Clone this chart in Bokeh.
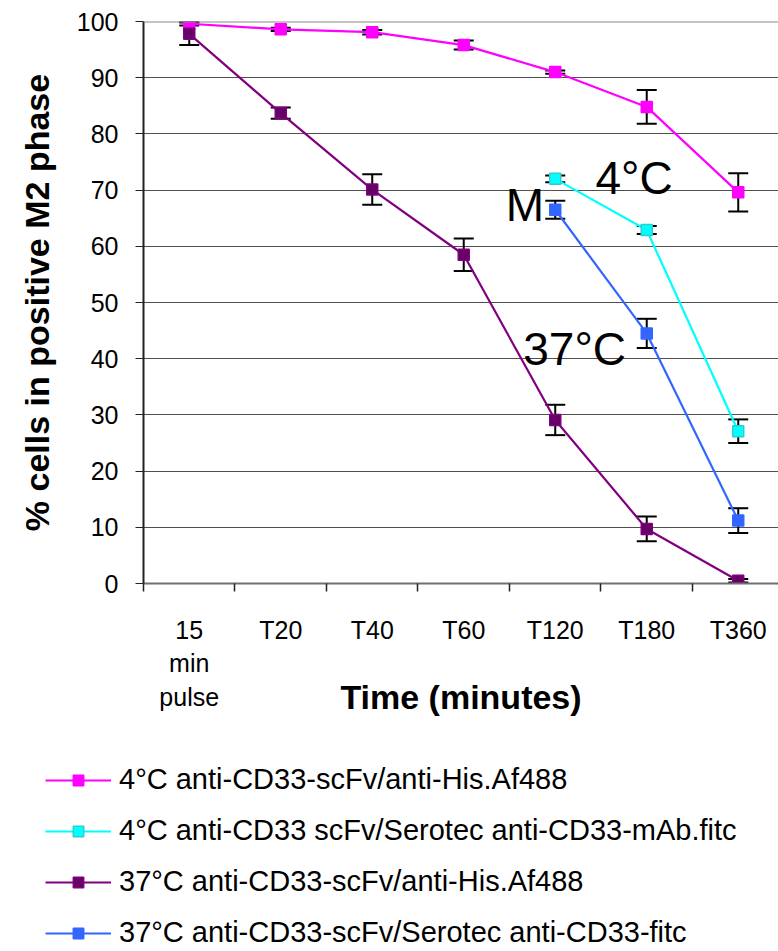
from bokeh.plotting import figure
from bokeh.layouts import column
from bokeh.models import (FixedTicker, Whisker, ColumnDataSource, Legend, LegendItem,
                          Label, Span, TeeHead)
from bokeh.embed import file_html
from bokeh.resources import INLINE

# ---- data ----
categories = ["15\nmin\npulse", "T20", "T40", "T60", "T120", "T180", "T360"]
y_ticks = [0, 10, 20, 30, 40, 50, 60, 70, 80, 90, 100]

his4_cats = ["15\nmin\npulse", "T20", "T40", "T60", "T120", "T180", "T360"]
his4_vals = [99.6, 98.6, 98.1, 95.8, 91.0, 84.8, 69.6]
his4_err = [0.3, 0.3, 0.4, 0.8, 0.3, 3.0, 3.4]

sero4_cats = ["T120", "T180", "T360"]
sero4_vals = [72.0, 62.9, 27.1]
sero4_err = [0.6, 0.7, 2.1]

his37_cats = ["15\nmin\npulse", "T20", "T40", "T60", "T120", "T180", "T360"]
his37_vals = [97.8, 83.7, 70.1, 58.5, 29.1, 9.7, 0.5]
his37_err = [2.0, 1.0, 2.7, 2.9, 2.7, 2.2, 0.3]

sero37_cats = ["T120", "T180", "T360"]
sero37_vals = [66.5, 44.5, 11.2]
sero37_err = [1.6, 2.6, 2.2]

series_names = [
    "4°C anti-CD33-scFv/anti-His.Af488",
    "4°C anti-CD33 scFv/Serotec anti-CD33-mAb.fitc",
    "37°C anti-CD33-scFv/anti-His.Af488",
    "37°C anti-CD33-scFv/Serotec anti-CD33-fitc",
]
annot_texts = ["4°C", "M", "37°C"]

FONT = "Liberation Sans"

p = figure(width=778, height=745, output_backend="svg", toolbar_location=None,
           x_range=(0, 6.94), y_range=(0, 100),
           min_border_left=143, min_border_right=0, min_border_top=21,
           min_border_bottom=162)
p.outline_line_color = None
p.background_fill_color = "white"

# y axis
p.yaxis.ticker = FixedTicker(ticks=y_ticks)
p.yaxis.major_tick_out = 8
p.yaxis.major_tick_in = 0
p.yaxis.minor_tick_out = 0
p.yaxis.minor_tick_in = 0
p.yaxis.axis_line_width = 2
p.yaxis.axis_line_color = "#222222"
p.yaxis.major_tick_line_color = "#222222"
p.yaxis.major_label_text_font = FONT
p.yaxis.major_label_text_font_size = "25px"
p.yaxis.major_label_text_color = "black"
p.yaxis.major_label_standoff = 17
p.yaxis.axis_label = "% cells in positive M2 phase"
p.yaxis.axis_label_text_font = FONT
p.yaxis.axis_label_text_font_style = "bold"
p.yaxis.axis_label_text_font_size = "34px"
p.yaxis.axis_label_text_color = "black"
p.yaxis.axis_label_standoff = 18

# x axis: labels at category centres, tick marks at category boundaries
centers = [i + 0.5 for i in range(len(categories))]
bounds = [i for i in range(len(categories) + 1)]
p.xaxis.ticker = FixedTicker(ticks=centers, minor_ticks=bounds)
p.xaxis.major_label_overrides = {c: lab for c, lab in zip(centers, categories)}
p.xaxis.major_tick_out = 0
p.xaxis.major_tick_in = 0
p.xaxis.minor_tick_out = 8
p.xaxis.minor_tick_in = 0
p.xaxis.minor_tick_line_color = "#222222"
p.xaxis.minor_tick_line_width = 1.5
p.xaxis.axis_line_width = 2
p.xaxis.axis_line_color = "#707070"
p.xaxis.major_label_text_font = FONT
p.xaxis.major_label_text_font_size = "25px"
p.xaxis.major_label_text_color = "black"
p.xaxis.major_label_standoff = 24
p.xaxis.axis_label = "Time (minutes)"
p.xaxis.axis_label_text_font = FONT
p.xaxis.axis_label_text_font_style = "bold"
p.xaxis.axis_label_text_font_size = "34px"
p.xaxis.axis_label_text_color = "black"
p.xaxis.axis_label_standoff = -36

p.xgrid.grid_line_color = None
p.ygrid.grid_line_color = "#505050"
p.ygrid.grid_line_width = 1

p.add_layout(Span(location=100, dimension="width", line_color="#8a8a8a", line_width=2))


def xs_for(cats):
    return [categories.index(c) + 0.5 for c in cats]


series = [
    (his4_cats, his4_vals, his4_err, "#FF00FF", "#FF00FF", "#FF00FF"),
    (sero4_cats, sero4_vals, sero4_err, "#00FFFF", "#00FFFF", "#33CCCC"),
    (his37_cats, his37_vals, his37_err, "#800080", "#660066", "#800080"),
    (sero37_cats, sero37_vals, sero37_err, "#3366FF", "#3366FF", "#3366FF"),
]

# legend lives in its own figure below the chart
lg = figure(width=778, height=206, output_backend="svg", toolbar_location=None,
            x_range=(0, 1), y_range=(0, 1), x_axis_type=None, y_axis_type=None,
            min_border_left=0, min_border_right=0, min_border_top=0, min_border_bottom=0)
lg.outline_line_color = None
lg.xgrid.visible = False
lg.ygrid.visible = False
for fig in (p, lg):
    try:
        fig.frame_align = False
    except Exception:
        pass

items = []
for (cats, vals, errs, lc, fc, ec), name in zip(series, series_names):
    src = ColumnDataSource(dict(
        x=xs_for(cats), y=vals,
        upper=[v + e for v, e in zip(vals, errs)],
        lower=[v - e for v, e in zip(vals, errs)],
    ))
    w = Whisker(base="x", upper="upper", lower="lower", source=src, dimension="height",
                line_color="black", line_width=2, level="underlay",
                upper_head=TeeHead(size=20, line_width=2, line_color="black"),
                lower_head=TeeHead(size=20, line_width=2, line_color="black"))
    p.add_layout(w)
    p.line("x", "y", source=src, line_color=lc, line_width=2.2)
    p.scatter("x", "y", source=src, marker="square", size=11,
              fill_color=fc, line_color=ec, line_width=1.5)
    # legend swatch renderers (same series, hidden in the legend figure)
    lr = lg.line("x", "y", source=src, line_color=lc, line_width=2.2, visible=False)
    sr = lg.scatter("x", "y", source=src, marker="square", size=11,
                    fill_color=fc, line_color=ec, line_width=1.5, visible=False)
    items.append(LegendItem(label=name, renderers=[lr, sr], index=0))

legend = Legend(items=items, location=(45, 2), orientation="vertical",
                glyph_width=66, glyph_height=26, label_standoff=8,
                label_text_font=FONT, label_text_font_size="29px",
                label_text_color="black", spacing=18, padding=0, margin=0,
                border_line_alpha=0, background_fill_alpha=0)
lg.add_layout(legend)

annot_x = [4.94, 3.96, 4.15]
annot_y = [72.1, 67.3, 41.8]
for t, ax, ay in zip(annot_texts, annot_x, annot_y):
    p.add_layout(Label(x=ax, y=ay, text=t, text_font=FONT, text_font_size="46px",
                       text_color="black", text_baseline="alphabetic"))

layout = column(p, lg, spacing=0)
open("out.html", "w").write(file_html(layout, INLINE))
